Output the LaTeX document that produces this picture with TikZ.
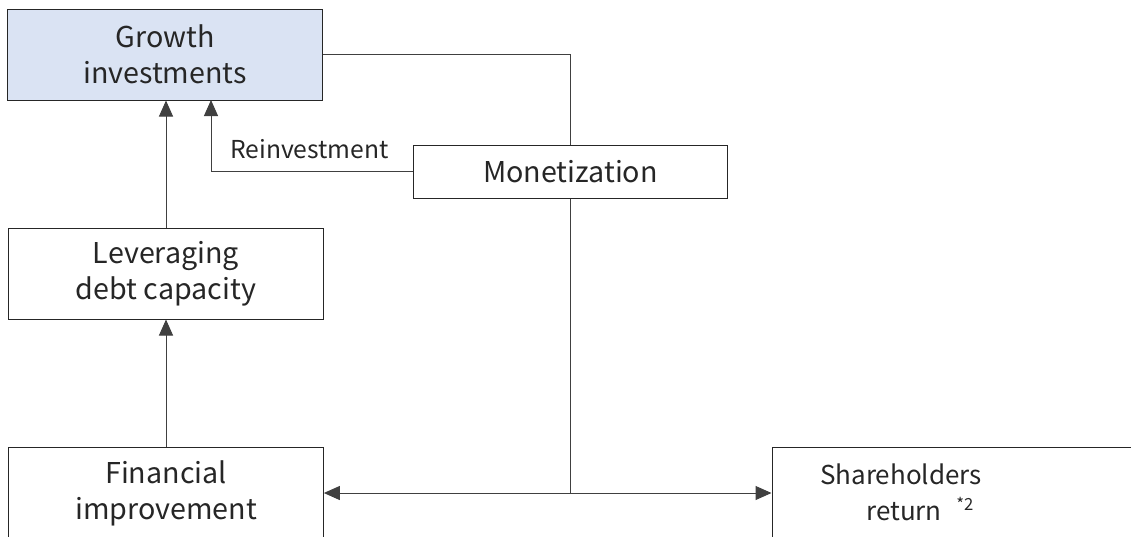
\documentclass[tikz,border=0pt]{standalone}
\usepackage{fontspec}
\setmainfont{Noto Sans CJK JP}
\usetikzlibrary{arrows.meta}
\definecolor{gfill}{HTML}{DAE3F3}
\definecolor{lc}{HTML}{404040}
\begin{document}
\begin{tikzpicture}[x=0.75pt,y=-0.75pt,
  box/.style={draw=black!85,line width=0.75pt,minimum width=236pt,align=center,inner sep=0pt,
    font=\fontsize{21.5}{27}\selectfont,text=black!85},
  conn/.style={draw=lc,line width=0.75pt},
  arr/.style={conn,-{Triangle[length=12pt,width=10.5pt]}},
  biarr/.style={conn,{Triangle[length=12pt,width=10.5pt]}-{Triangle[length=12pt,width=10.5pt]}},
  lbl/.style={font=\fontsize{18.5}{22}\selectfont,text=black!85,inner sep=0pt}]
\path[use as bounding box] (0,0) rectangle (1131,536);
\clip (0,0) rectangle (1131,536);
\node[box,fill=gfill,minimum height=68.25pt] (growth) at (165,54.5) {Growth\\investments};
\node[box,minimum height=39.75pt] (mon) at (570.5,171.5) {Monetization};
\node[box,minimum height=68.25pt] (lev) at (166,273.5) {Leveraging\\debt capacity};
\node[box,minimum height=68.25pt] (fin) at (166,493) {Financial\\improvement};
\node[box,minimum height=68.25pt,minimum width=270pt] (sh) at (952,493) {};
\node[lbl,anchor=base,font=\fontsize{19.5}{22}\selectfont] (shtext) at (901,484) {Shareholders};
\node[lbl,anchor=base west,font=\fontsize{19.5}{22}\selectfont] (rettext) at (866,520) {return};
\node[lbl,anchor=base west,font=\fontsize{12.5}{14}\selectfont] (note) at (956,510) {*2};
\coordinate (g2) at (211,100);
\coordinate (j) at (570.5,493);
\node[lbl,anchor=base] (reinv) at (309.5,158) {Reinvestment};
\draw[conn] (growth.east) -| (mon.north);
\draw[arr] (mon.west) -| (g2);
\draw[arr] (lev.north) -- (growth.south -| lev.north);
\draw[arr] (fin.north) -- (lev.south);
\draw[conn] (mon.south) -- (j);
\draw[biarr] (fin.east) -- (sh.west);
\end{tikzpicture}
\end{document}
